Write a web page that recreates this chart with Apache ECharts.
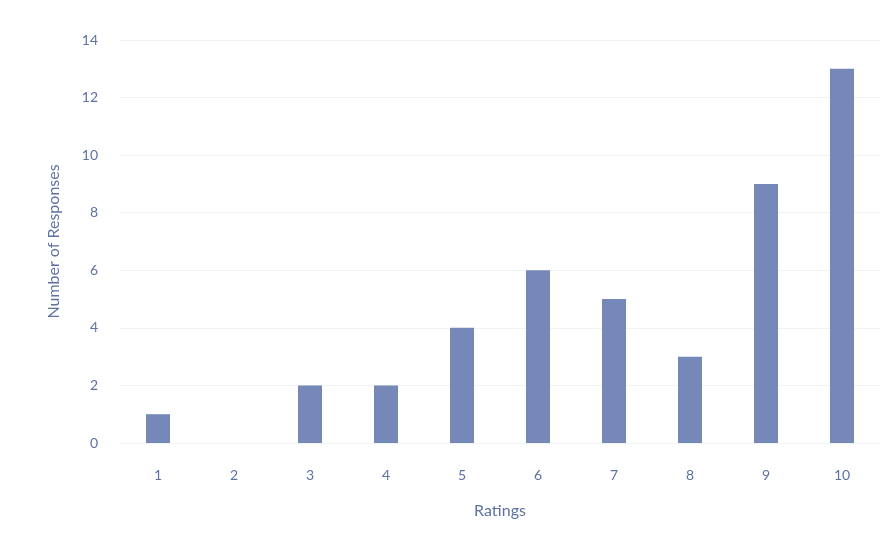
<!DOCTYPE html>
<html>
<head>
<meta charset="utf-8">
<script src="https://cdn.jsdelivr.net/npm/echarts@6/dist/echarts.min.js"></script>
<style>
  html, body { margin: 0; padding: 0; background: #fff; }
  #chart { width: 896px; height: 547px; }
</style>
</head>
<body>
<div id="chart"></div>
<script>
// ratings on the x axis, counts per rating
const ratings = ['1', '2', '3', '4', '5', '6', '7', '8', '9', '10'];
const responses = [1, 0, 2, 2, 4, 6, 5, 3, 9, 13];

const textColor = '#5d72a3';
const myChart = echarts.init(document.getElementById('chart'));

const option = {
  backgroundColor: '#ffffff',
  grid: {
    left: 120,
    right: 16,
    top: 40,
    bottom: 104
  },
  xAxis: {
    type: 'category',
    data: ratings,
    name: 'Ratings',
    nameLocation: 'middle',
    nameGap: 60,
    nameTextStyle: { color: textColor, fontFamily: 'Lato', fontSize: 16 },
    axisLine: { show: false },
    axisTick: { show: false },
    axisLabel: { color: textColor, fontFamily: 'Lato', fontSize: 14, margin: 25 }
  },
  yAxis: {
    type: 'value',
    min: 0,
    max: 14,
    interval: 2,
    name: 'Number of Responses',
    nameLocation: 'middle',
    nameGap: 58,
    nameTextStyle: { color: textColor, fontFamily: 'Lato', fontSize: 16 },
    axisLine: { show: false },
    axisTick: { show: false },
    axisLabel: { color: textColor, fontFamily: 'Lato', fontSize: 14, margin: 22 },
    splitLine: { lineStyle: { color: '#eef4f4', width: 1 } }
  },
  series: [
    {
      type: 'bar',
      data: responses,
      barWidth: 24,
      itemStyle: { color: '#7588b7' }
    }
  ]
};

myChart.setOption(option);
</script>
</body>
</html>
